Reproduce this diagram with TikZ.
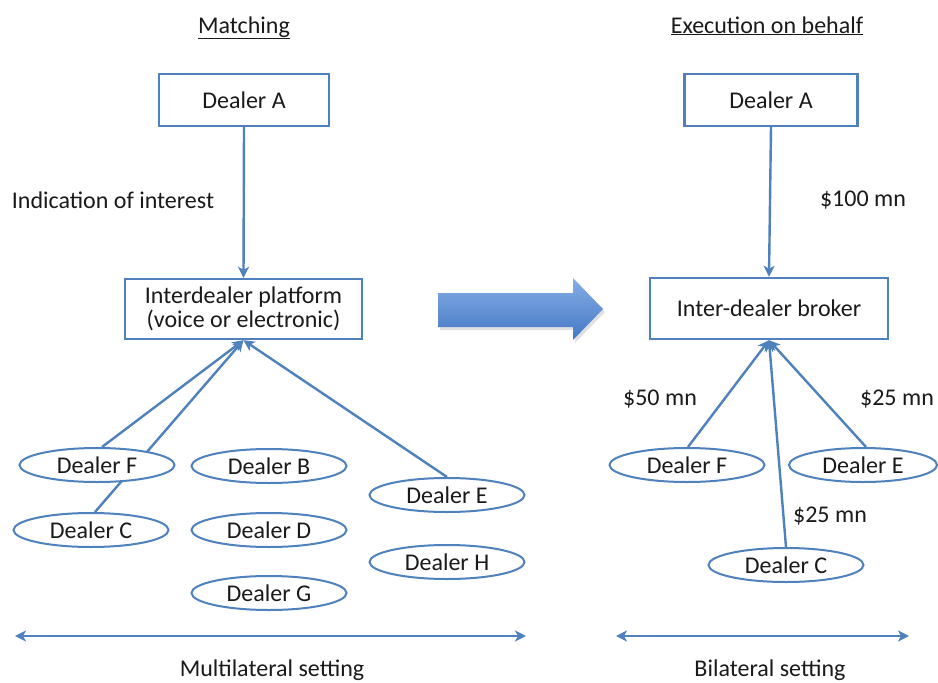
\documentclass[tikz,border=0pt]{standalone}
\usepackage{fontspec}
\setmainfont{Carlito}
\usetikzlibrary{arrows.meta,shapes.geometric,backgrounds}
\definecolor{ob}{HTML}{4F81BD}
\definecolor{txt}{HTML}{1A1A1A}
\definecolor{arTop}{HTML}{86AEE6}
\definecolor{arBot}{HTML}{4477C4}
\begin{document}
\begin{tikzpicture}[x=1pt,y=-1pt,
  font=\fontsize{24}{24}\selectfont,
  box/.style={draw=ob,line width=2.4pt,fill=white,inner sep=0pt,text=txt,align=center},
  dl/.style={draw=ob,line width=2pt,fill=white,ellipse,minimum width=155pt,minimum height=34pt,inner sep=0pt,text=txt},
  conn/.style={draw=ob,line width=2.4pt,-{Stealth[length=11pt,width=11pt,inset=3pt]}},
  span/.style={draw=ob,line width=2.4pt,{Stealth[length=11pt,width=11pt,inset=3pt]}-{Stealth[length=11pt,width=11pt,inset=3pt]}},
  lbl/.style={inner sep=0pt,text=txt,anchor=base}]
\useasboundingbox (0,0) rectangle (938,683);

% titles
\node[lbl] (t1) at (244,33) {\underline{Matching}};
\node[lbl] (t2) at (767,33) {\underline{Execution on behalf}};

% left side
\node[box,minimum width=170pt,minimum height=52pt] (lA) at (244,100) {Dealer A};
\node[box,minimum width=237pt,minimum height=60pt] (plat) at (243.5,309) {Interdealer platform\\(voice or electronic)};
\node[lbl] (ioi) at (113,208) {Indication of interest};

\node[dl] (lF) at (97,465) {Dealer F};
\node[dl] (lB) at (269,466) {Dealer B};
\node[dl] (lE) at (447,495) {Dealer E};
\node[dl] (lC) at (91,530) {Dealer C};
\node[dl] (lD) at (269,530) {Dealer D};
\node[dl] (lH) at (447,562) {Dealer H};
\node[dl] (lG) at (269,593) {Dealer G};

% right side
\node[box,minimum width=173pt,minimum height=52pt] (rA) at (771,100) {Dealer A};
\node[box,minimum width=238pt,minimum height=61pt] (brk) at (769,308.5) {Inter-dealer broker};
\node[lbl] (m100) at (863,206) {\$100 mn};

\node[dl] (rF) at (687,465) {Dealer F};
\node[dl,minimum width=148pt] (rE) at (863,465) {Dealer E};
\node[dl] (rC) at (786,565) {Dealer C};

\node[lbl] (m50) at (660,405) {\$50 mn};
\node[lbl] (m25a) at (897,405) {\$25 mn};
\node[lbl] (m25b) at (830,522) {\$25 mn};

% big arrow
\fill[black,opacity=0.12] (440,296) -- (575,296) -- (575,281) -- (605,312) -- (575,343) -- (575,330) -- (440,330) -- cycle;
\shade[top color=arTop,bottom color=arBot] (438,293) -- (573,293) -- (573,278) -- (603,309) -- (573,340) -- (573,327) -- (438,327) -- cycle;

% bottom span arrows
\coordinate (sL1) at (15,636);
\coordinate (sL2) at (526,636);
\coordinate (sR1) at (616,636);
\coordinate (sR2) at (909,636);
\draw[span] (sL1) -- (sL2);
\draw[span] (sR1) -- (sR2);
\node[lbl] (ml) at (272,676) {Multilateral setting};
\node[lbl] (bl) at (770,676) {Bilateral setting};

\begin{scope}[on background layer]
\fill[white] (0,0) rectangle (938,683);
\draw[conn] (lA.south) -- (plat.north);
\draw[conn] ([xshift=5pt]lF.north) -- (plat.south);
\draw[conn] ([xshift=4pt]lC.north) -- (plat.south);
\draw[conn] (lE.north) -- (plat.south);
\draw[conn] (rA.south) -- (brk.north);
\draw[conn] ([xshift=1pt]rF.north) -- (brk.south);
\draw[conn] ([xshift=3pt]rE.north) -- (brk.south);
\draw[conn] (rC.north) -- (brk.south);
\end{scope}
\end{tikzpicture}
\end{document}
